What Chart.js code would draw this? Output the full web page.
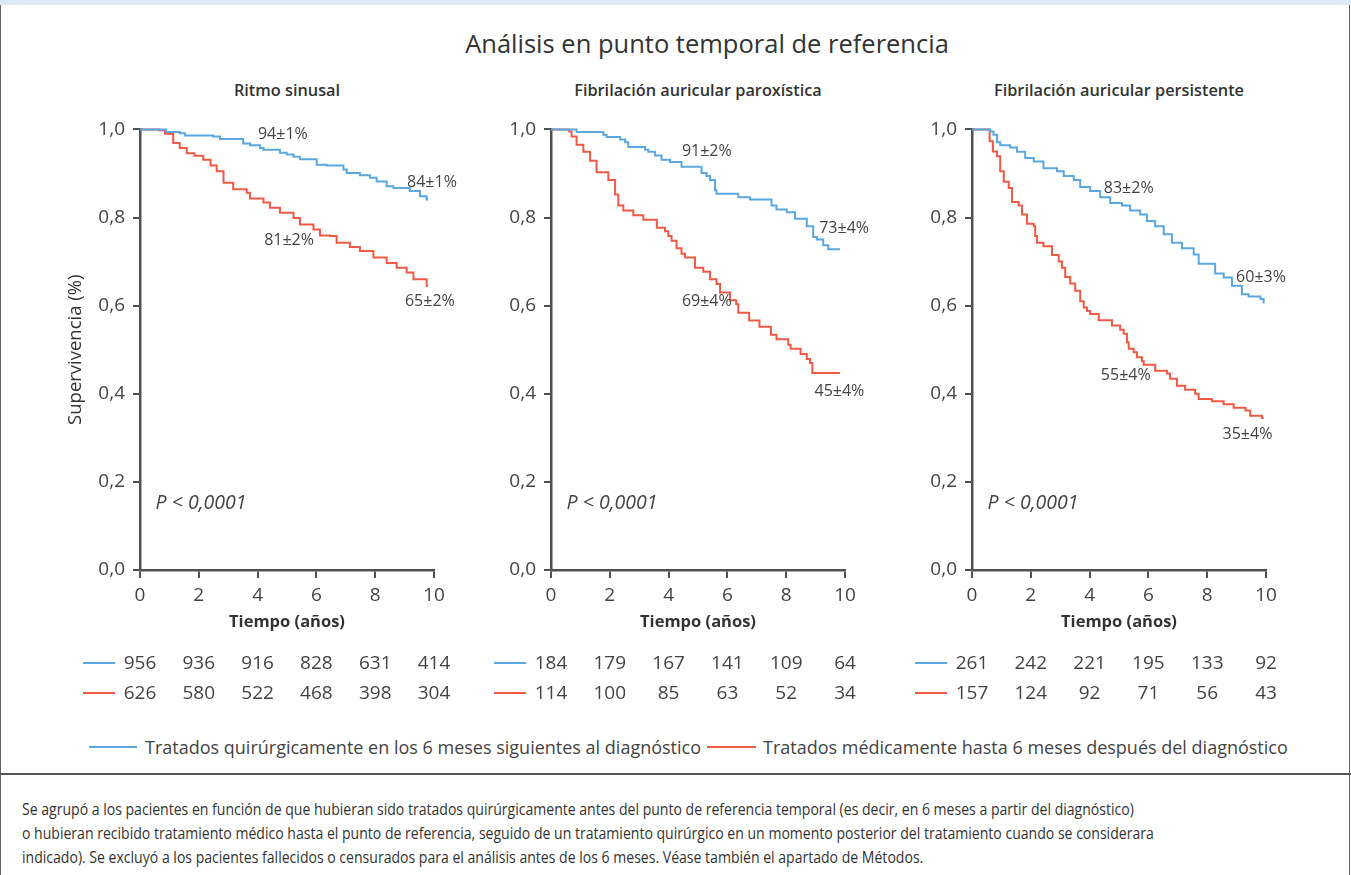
<!DOCTYPE html>
<html lang="es">
<head>
<meta charset="utf-8">
<title>Análisis en punto temporal de referencia</title>
<script src="https://cdn.jsdelivr.net/npm/chart.js@4.4.1/dist/chart.umd.min.js"></script>
<style>
  body { margin: 0; width: 1351px; height: 875px; position: relative; overflow: hidden;
         background: #fff; font-family: "Open Sans", sans-serif; color: #3c3c3c; }
  .strip { position: absolute; left: 0; top: 0; width: 1351px; height: 5px; background: #dce8f4; }
  .frame { position: absolute; left: 0; top: 5px; width: 1348px; height: 880px;
           border-left: 1.5px solid #666; border-right: 1.5px solid #666; }
  .sep { position: absolute; left: 0; top: 773px; width: 1351px; height: 1.5px; background: #555; }
  .title { position: absolute; left: 357px; width: 700px; top: 27px; line-height: 32px;
           font-size: 25.5px; font-weight: 500; text-align: center; color: #333; }
  .sub { position: absolute; width: 360px; top: 80px; line-height: 20px; font-size: 16.3px;
         font-weight: 600; text-align: center; color: #333; }
  canvas.km { position: absolute; top: 110px; }
  .leg { position: absolute; top: 736px; line-height: 22px; font-size: 18px; color: #444; white-space: nowrap; }
  .legline { position: absolute; top: 746px; height: 2px; }
  .foot { position: absolute; left: 22px; line-height: 24px; font-size: 16px; color: #333;
          white-space: nowrap; transform-origin: 0 50%; transform: scaleX(0.878); }
</style>
</head>
<body>
<div class="strip"></div>
<div class="frame"></div>
<div class="sep"></div>

<div class="title">Análisis en punto temporal de referencia</div>
<div class="sub" style="left:107px">Ritmo sinusal</div>
<div class="sub" style="left:518px">Fibrilación auricular paroxística</div>
<div class="sub" style="left:939px">Fibrilación auricular persistente</div>

<canvas class="km" id="kmRitmo" width="404" height="600" style="left:60px"></canvas>
<canvas class="km" id="kmParox" width="404" height="600" style="left:471px"></canvas>
<canvas class="km" id="kmPers" width="404" height="600" style="left:892px"></canvas>

<div class="legline" style="left:89px;width:48px;background:#5ba7de"></div>
<div class="leg" style="left:145px">Tratados quirúrgicamente en los 6 meses siguientes al diagnóstico</div>
<div class="legline" style="left:707px;width:49px;background:#ee5a45"></div>
<div class="leg" style="left:763px">Tratados médicamente hasta 6 meses después del diagnóstico</div>

<div class="foot" style="top:797px">Se agrupó a los pacientes en función de que hubieran sido tratados quirúrgicamente antes del punto de referencia temporal (es decir, en 6 meses a partir del diagnóstico)</div>
<div class="foot" style="top:821px">o hubieran recibido tratamiento médico hasta el punto de referencia, seguido de un tratamiento quirúrgico en un momento posterior del tratamiento cuando se considerara</div>
<div class="foot" style="top:845px">indicado). Se excluyó a los pacientes fallecidos o censurados para el análisis antes de los 6 meses. Véase también el apartado de Métodos.</div>

<script>
// Kaplan-Meier curves: [years, survival] at each step
var ritmoQuir = [[0,1],[0.89,0.994],[1.36,0.991],[1.53,0.986],[2.49,0.984],[2.72,0.978],[3.51,0.968],[3.74,0.964],
  [4.08,0.958],[4.2,0.954],[4.76,0.947],[4.99,0.943],[5.22,0.938],[5.44,0.932],[6.01,0.92],[6.35,0.918],[6.92,0.909],
  [7.03,0.901],[7.48,0.896],[7.82,0.89],[8.05,0.882],[8.39,0.871],[8.62,0.867],[9.18,0.86],[9.52,0.848],[9.75,0.841],[9.8,0.841]];
var ritmoMed = [[0,1],[0.65,0.998],[0.85,0.99],[1.13,0.969],[1.35,0.958],[1.59,0.946],[1.85,0.94],[2.15,0.931],[2.4,0.918],
  [2.61,0.905],[2.84,0.879],[3.17,0.864],[3.63,0.856],[3.74,0.843],[4.2,0.834],[4.42,0.822],[4.76,0.811],[5.22,0.799],
  [5.44,0.784],[5.9,0.773],[6.12,0.759],[6.46,0.758],[6.69,0.743],[7.14,0.733],[7.48,0.724],[7.94,0.709],[8.39,0.697],
  [8.73,0.686],[9.07,0.675],[9.3,0.66],[9.75,0.645],[9.8,0.645]];

var paroxQuir = [[0,1],[0.87,0.994],[1.78,0.988],[1.89,0.983],[2.35,0.977],[2.52,0.971],[2.63,0.96],[3.2,0.954],[3.31,0.949],
  [3.54,0.941],[3.76,0.931],[4.05,0.926],[4.44,0.915],[5.12,0.901],[5.29,0.894],[5.41,0.885],[5.58,0.862],[5.63,0.854],
  [6.37,0.846],[6.77,0.841],[7.5,0.827],[7.67,0.818],[8.02,0.812],[8.3,0.797],[8.7,0.78],[8.92,0.756],[9.04,0.75],
  [9.26,0.737],[9.43,0.728],[9.83,0.728]];
var paroxMed = [[0,1],[0.62,0.995],[0.7,0.984],[0.87,0.965],[1.1,0.949],[1.33,0.929],[1.55,0.903],[1.95,0.885],[2.18,0.852],
  [2.29,0.827],[2.46,0.816],[2.8,0.805],[3.14,0.795],[3.6,0.777],[3.88,0.769],[3.99,0.758],[4.1,0.747],[4.27,0.73],
  [4.44,0.718],[4.56,0.709],[4.9,0.686],[5.18,0.677],[5.41,0.66],[5.63,0.649],[5.75,0.63],[6.09,0.612],[6.3,0.603],
  [6.37,0.584],[6.74,0.566],[7.09,0.552],[7.48,0.534],[7.67,0.524],[8.07,0.511],[8.15,0.502],[8.49,0.49],[8.7,0.479],
  [8.81,0.47],[8.89,0.447],[9.83,0.447]];

var persQuir = [[0,1],[0.62,0.995],[0.73,0.988],[0.85,0.971],[0.96,0.964],[1.3,0.959],[1.53,0.949],[1.81,0.935],[2.1,0.927],
  [2.43,0.912],[2.89,0.905],[3.12,0.894],[3.46,0.885],[3.68,0.869],[4.02,0.86],[4.36,0.846],[4.7,0.833],[5.1,0.827],
  [5.38,0.816],[5.72,0.807],[5.95,0.792],[6.23,0.78],[6.52,0.762],[6.8,0.743],[7.14,0.73],[7.54,0.716],[7.71,0.695],
  [8.27,0.673],[8.56,0.664],[8.84,0.645],[9.18,0.626],[9.41,0.621],[9.81,0.615],[9.92,0.605]];
var persMed = [[0,1],[0.6,0.973],[0.71,0.95],[0.85,0.939],[0.96,0.905],[1.08,0.881],[1.25,0.867],[1.36,0.835],[1.59,0.827],
  [1.7,0.807],[1.87,0.786],[2.1,0.78],[2.15,0.758],[2.21,0.743],[2.43,0.735],[2.72,0.715],[2.95,0.7],[3.06,0.686],
  [3.17,0.665],[3.34,0.65],[3.51,0.634],[3.68,0.61],[3.8,0.596],[3.91,0.588],[4.02,0.581],[4.31,0.567],[4.76,0.555],
  [5.04,0.545],[5.16,0.536],[5.27,0.517],[5.33,0.502],[5.5,0.494],[5.61,0.483],[5.78,0.474],[5.84,0.466],[6.23,0.452],
  [6.63,0.446],[6.74,0.434],[6.97,0.418],[7.25,0.409],[7.59,0.4],[7.71,0.388],[8.16,0.383],[8.56,0.376],[8.9,0.368],
  [9.3,0.362],[9.46,0.35],[9.86,0.345],[9.92,0.345]];

// patients at risk, every 2 years
var riskYears = [0, 2, 4, 6, 8, 10];
var ritmoQuirRisk = [956, 936, 916, 828, 631, 414];
var ritmoMedRisk = [626, 580, 522, 468, 398, 304];
var paroxQuirRisk = [184, 179, 167, 141, 109, 64];
var paroxMedRisk = [114, 100, 85, 63, 52, 34];
var persQuirRisk = [261, 242, 221, 195, 133, 92];
var persMedRisk = [157, 124, 92, 71, 56, 43];

var BLUE = '#5ba7de';
var RED = '#ee5a45';
var AXIS = '#505050';
var INK = '#444';

Chart.defaults.font.family = '"Open Sans", sans-serif';
Chart.defaults.color = INK;

function toXY(arr) {
  return arr.map(function (p) { return { x: p[0], y: p[1] }; });
}

// survival labels and p value, placed in data coordinates
var notesPlugin = {
  id: 'notes',
  afterDatasetsDraw: function (chart) {
    var notes = chart.options.plugins.notes.items;
    var ctx = chart.ctx, xs = chart.scales.x, ys = chart.scales.y;
    ctx.save();
    ctx.fillStyle = INK;
    ctx.textBaseline = 'middle';
    notes.forEach(function (n) {
      ctx.font = n.italic ? 'italic 19.5px "Open Sans"' : '16px "Open Sans"';
      ctx.textAlign = n.align || 'center';
      ctx.fillText(n.text, xs.getPixelForValue(n.x), ys.getPixelForValue(n.y));
    });
    ctx.restore();
  }
};

// numbers at risk below the time axis
var riskPlugin = {
  id: 'risk',
  afterDraw: function (chart) {
    var o = chart.options.plugins.risk;
    var ctx = chart.ctx, xs = chart.scales.x;
    var x0 = xs.getPixelForValue(0);
    ctx.save();
    ctx.font = '19px "Open Sans"';
    ctx.textAlign = 'center';
    ctx.textBaseline = 'middle';
    o.rows.forEach(function (row, r) {
      var y = chart.chartArea.bottom + 93 + r * 30;
      ctx.strokeStyle = row.color;
      ctx.lineWidth = 2;
      ctx.beginPath();
      ctx.moveTo(x0 - 57, y);
      ctx.lineTo(x0 - 25, y);
      ctx.stroke();
      ctx.fillStyle = INK;
      row.values.forEach(function (v, i) {
        ctx.fillText(String(v), xs.getPixelForValue(riskYears[i]), y + 1);
      });
    });
    ctx.restore();
  }
};

function makeKM(id, surg, med, surgRisk, medRisk, notes, showYTitle) {
  return new Chart(id, {
    type: 'line',
    data: {
      datasets: [
        { data: toXY(surg), borderColor: BLUE, borderWidth: 2, stepped: true, pointRadius: 0, fill: false, clip: false },
        { data: toXY(med), borderColor: RED, borderWidth: 2, stepped: true, pointRadius: 0, fill: false, clip: false }
      ]
    },
    options: {
      responsive: false,
      animation: false,
      events: [],
      layout: { padding: { top: 14, right: 30, bottom: 75, left: 0 } },
      plugins: {
        legend: { display: false },
        tooltip: { enabled: false },
        notes: { items: notes },
        risk: { rows: [{ color: BLUE, values: surgRisk }, { color: RED, values: medRisk }] }
      },
      scales: {
        x: {
          type: 'linear', min: 0, max: 10,
          ticks: { stepSize: 2, padding: 6, color: INK, font: { size: 19 } },
          grid: { drawOnChartArea: false, tickLength: 8, color: AXIS, lineWidth: 2 },
          border: { color: AXIS, width: 2.5 },
          title: { display: true, text: 'Tiempo (años)', color: '#333',
                   font: { size: 16.5, weight: 'bold' }, padding: { top: 4, bottom: 3 } },
          afterFit: function (s) { s.height = 65; }
        },
        y: {
          min: 0, max: 1,
          ticks: { stepSize: 0.2, padding: 8, color: INK, font: { size: 19 },
                   callback: function (v) { return v.toFixed(1).replace('.', ','); } },
          grid: { drawOnChartArea: false, tickLength: 7, color: AXIS, lineWidth: 2 },
          border: { color: AXIS, width: 2.5 },
          title: { display: showYTitle, text: 'Supervivencia (%)', color: '#333',
                   font: { size: 18.5, weight: '500' }, padding: { top: 5 } },
          afterFit: function (s) { s.width = 80; }
        }
      }
    },
    plugins: [notesPlugin, riskPlugin]
  });
}

makeKM('kmRitmo', ritmoQuir, ritmoMed, ritmoQuirRisk, ritmoMedRisk, [
  { text: '94±1%', x: 4.86, y: 0.989 },
  { text: '84±1%', x: 9.93, y: 0.879 },
  { text: '81±2%', x: 5.07, y: 0.747 },
  { text: '65±2%', x: 9.86, y: 0.609 },
  { text: 'P < 0,0001', x: 0.53, y: 0.152, align: 'left', italic: true }
], true);

makeKM('kmParox', paroxQuir, paroxMed, paroxQuirRisk, paroxMedRisk, [
  { text: '91±2%', x: 5.3, y: 0.95 },
  { text: '73±4%', x: 9.97, y: 0.775 },
  { text: '69±4%', x: 5.3, y: 0.609 },
  { text: '45±4%', x: 9.81, y: 0.405 },
  { text: 'P < 0,0001', x: 0.53, y: 0.152, align: 'left', italic: true }
], false);

makeKM('kmPers', persQuir, persMed, persQuirRisk, persMedRisk, [
  { text: '83±2%', x: 5.33, y: 0.867 },
  { text: '60±3%', x: 9.83, y: 0.664 },
  { text: '55±4%', x: 5.23, y: 0.441 },
  { text: '35±4%', x: 9.37, y: 0.308 },
  { text: 'P < 0,0001', x: 0.53, y: 0.152, align: 'left', italic: true }
], false);
</script>
</body>
</html>
